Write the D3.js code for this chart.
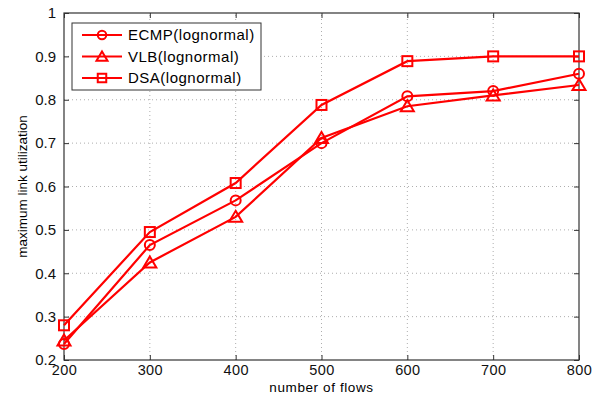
<!DOCTYPE html>
<html>
<head>
<meta charset="utf-8">
<script src="https://cdn.jsdelivr.net/npm/d3@7"></script>
<style>
  body { margin: 0; background: #fff; }
  text { font-family: "Liberation Sans", Arial, sans-serif; }
</style>
</head>
<body>
<div id="chart"></div>
<script>
// chart data
const flows = [200, 300, 400, 500, 600, 700, 800];
const ecmp = [0.237, 0.465, 0.568, 0.70, 0.808, 0.82, 0.86];
const vlb = [0.245, 0.425, 0.53, 0.712, 0.785, 0.81, 0.834];
const dsa = [0.28, 0.495, 0.608, 0.788, 0.889, 0.90, 0.90];
const seriesNames = ["ECMP(lognormal)", "VLB(lognormal)", "DSA(lognormal)"];
const markers = ["circle", "triangle", "square"];
const yTicks = [0.2, 0.3, 0.4, 0.5, 0.6, 0.7, 0.8, 0.9, 1];

const width = 598;
const height = 394;
const margin = { top: 13, right: 19, bottom: 34, left: 64 };

const svg = d3.select('#chart')
  .append('svg')
  .attr('width', width)
  .attr('height', height);

const x = d3.scaleLinear()
  .domain([200, 800])
  .range([margin.left, width - margin.right]);

const y = d3.scaleLinear()
  .domain([0.2, 1])
  .range([height - margin.bottom, margin.top]);

// grid
const grid = svg.append('g')
  .attr('stroke', '#999')
  .attr('stroke-width', 0.8)
  .attr('stroke-dasharray', '1,3');
grid.selectAll('.gx')
  .data(flows.slice(1, -1))
  .join('line')
    .attr('x1', d => x(d)).attr('x2', d => x(d))
    .attr('y1', y(0.2)).attr('y2', y(1));
grid.selectAll('.gy')
  .data(yTicks.slice(1, -1))
  .join('line')
    .attr('y1', d => y(d)).attr('y2', d => y(d))
    .attr('x1', x(200)).attr('x2', x(800));

// axes with inward ticks
const tickLen = 5;
svg.append('g')
  .attr('class', 'xaxis')
  .attr('transform', `translate(0,${y(0.2)})`)
  .call(d3.axisBottom(x).tickValues(flows).tickSize(-tickLen).tickPadding(5))
  .call(g => g.select('.domain').remove());
svg.append('g')
  .attr('transform', `translate(0,${y(1)})`)
  .call(d3.axisTop(x).tickValues(flows).tickSize(-tickLen).tickFormat(''))
  .call(g => g.select('.domain').remove());
svg.append('g')
  .attr('class', 'yaxis')
  .attr('transform', `translate(${x(200)},0)`)
  .call(d3.axisLeft(y).tickValues(yTicks).tickSize(-tickLen).tickPadding(8).tickFormat(d => d === 1 ? '1' : d3.format('.1f')(d)))
  .call(g => g.select('.domain').remove());
svg.append('g')
  .attr('transform', `translate(${x(800)},0)`)
  .call(d3.axisRight(y).tickValues(yTicks).tickSize(-tickLen).tickFormat(''))
  .call(g => g.select('.domain').remove());

svg.selectAll('.tick line').attr('stroke', '#333');
svg.selectAll('.tick text').attr('fill', '#111')
  .style('font-family', '"Liberation Sans", Arial, sans-serif');
svg.selectAll('.yaxis .tick text').attr('font-size', 15);
svg.selectAll('.xaxis .tick text').attr('font-size', 14.5).attr('letter-spacing', 0.4);

svg.append('rect')
  .attr('x', x(200)).attr('y', y(1))
  .attr('width', x(800) - x(200)).attr('height', y(0.2) - y(1))
  .attr('fill', 'none').attr('stroke', '#333').attr('stroke-width', 1.2);

// axis titles
svg.append('text')
  .attr('x', (x(200) + x(800)) / 2)
  .attr('y', height - 2)
  .attr('text-anchor', 'middle')
  .attr('font-size', 13.5)
  .attr('letter-spacing', 0.6)
  .text('number of flows');
svg.append('text')
  .attr('transform', `translate(27,${(y(0.2) + y(1)) / 2}) rotate(-90)`)
  .attr('text-anchor', 'middle')
  .attr('font-size', 13.5)
  .text('maximum link utilization');

// markers
const red = '#ff0000';
function drawMarker(g, type, cx, cy, k = 1) {
  if (type === 'circle') {
    g.append('circle').attr('cx', cx).attr('cy', cy).attr('r', 5 * k)
      .attr('fill', 'none').attr('stroke', red).attr('stroke-width', 2);
  } else if (type === 'triangle') {
    g.append('path')
      .attr('d', `M${cx},${cy - 6 * k}L${cx + 6.5 * k},${cy + 5 * k}L${cx - 6.5 * k},${cy + 5 * k}Z`)
      .attr('fill', 'none').attr('stroke', red).attr('stroke-width', 2);
  } else {
    g.append('rect').attr('x', cx - 5 * k).attr('y', cy - 5 * k)
      .attr('width', 10 * k).attr('height', 10 * k)
      .attr('fill', 'none').attr('stroke', red).attr('stroke-width', 2);
  }
}

const allSeries = [ecmp, vlb, dsa];
const line = d3.line()
  .x((d, i) => x(flows[i]))
  .y(d => y(d));

allSeries.forEach((vals, s) => {
  const g = svg.append('g');
  g.append('path')
    .datum(vals)
    .attr('fill', 'none')
    .attr('stroke', red)
    .attr('stroke-width', 2.2)
    .attr('d', line);
  vals.forEach((v, i) => drawMarker(g, markers[s], x(flows[i]), y(v)));
});

// legend
const lg = svg.append('g').attr('transform', 'translate(72,23)');
lg.append('rect')
  .attr('width', 189).attr('height', 67)
  .attr('fill', '#fff').attr('stroke', '#333').attr('stroke-width', 1);
seriesNames.forEach((name, i) => {
  const cy = 12 + i * 21.5;
  lg.append('line')
    .attr('x1', 10).attr('x2', 50).attr('y1', cy).attr('y2', cy)
    .attr('stroke', red).attr('stroke-width', 2.2);
  drawMarker(lg, markers[i], 30, cy, 0.85);
  lg.append('text')
    .attr('x', 56).attr('y', cy + 5)
    .attr('font-size', 15)
    .attr('letter-spacing', 0.5)
    .text(name);
});
</script>
</body>
</html>
